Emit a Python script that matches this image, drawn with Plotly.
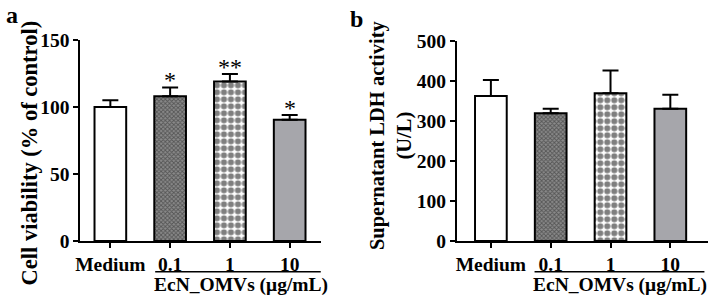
import plotly.graph_objects as go

categories = ["Medium", "0.1", "1", "10"]
viability = [100, 108, 119, 90.5]
viability_err = [5, 6.5, 5.5, 3.5]
viability_sig = ["", "*", "**", "*"]
ldh = [362, 319, 369, 330]
ldh_err = [40, 11, 57, 35]
group_label = "EcN_OMVs (μg/mL)"

FONT = "Liberation Serif"
FS = 19.5
W, H = 709, 308

def px(x):
    return x / W

def py(y):
    return (H - y) / H

xpos = list(range(len(categories)))

fills = [
    dict(color="white", pattern=dict(shape="")),
    dict(color="#8a8a8a", pattern=dict(shape="x", fgcolor="#202020", size=3, solidity=0.5)),
    dict(color="white", pattern=dict(shape=".", fgcolor="black", size=7, solidity=0.6)),
    dict(color="#a6a6ab", pattern=dict(shape="")),
]

fig = go.Figure()

for panel, (vals, errs, xa, ya) in enumerate([(viability, viability_err, "x", "y"), (ldh, ldh_err, "x2", "y2")]):
    for i in range(len(categories)):
        f = fills[i]
        fig.add_trace(go.Bar(
            x=[xpos[i]], y=[vals[i]], width=0.53, xaxis=xa, yaxis=ya,
            marker=dict(color=f["color"], pattern=f["pattern"], line=dict(color="black", width=2)),
            error_y=dict(type="data", symmetric=False, array=[errs[i]], arrayminus=[0],
                         color="black", thickness=2, width=8),
            showlegend=False, hoverinfo="skip",
        ))

# significance stars
for i, s in enumerate(viability_sig):
    if s:
        fig.add_annotation(x=xpos[i], y=viability[i] + viability_err[i], xref="x", yref="y",
                           text=s, showarrow=False, yanchor="bottom", yshift=-8,
                           font=dict(family=FONT, size=24, color="black"))

axis_common = dict(showline=True, linecolor="black", linewidth=2, ticks="outside",
                   tickwidth=2, ticklen=5, tickcolor="black", showgrid=False, zeroline=False,
                   tickfont=dict(family=FONT, size=FS, color="black"))

fig.update_layout(
    width=W, height=H, margin=dict(l=0, r=0, t=0, b=0),
    paper_bgcolor="white", plot_bgcolor="white", barmode="overlay",
    xaxis=dict(domain=[px(76), px(318)], range=[-0.5, 3.52], anchor="y",
               tickvals=xpos, ticktext=["<b>%s</b>" % c for c in categories], **axis_common),
    yaxis=dict(domain=[py(248), py(32)], range=[0, 150], anchor="x",
               tickvals=[0, 50, 100, 150], ticktext=["<b>%d</b>" % v for v in [0, 50, 100, 150]],
               **axis_common),
    xaxis2=dict(domain=[px(455), px(708)], range=[-0.57, 3.63], anchor="y2",
                tickvals=xpos, ticktext=["<b>%s</b>" % c for c in categories], **axis_common),
    yaxis2=dict(domain=[py(248), py(33)], range=[0, 500], anchor="x2",
                tickvals=[0, 100, 200, 300, 400, 500],
                ticktext=["<b>%d</b>" % v for v in [0, 100, 200, 300, 400, 500]], **axis_common),
)

# group underline and label
for xa, x0, x1, xc in [("x", 0.75, 3.57, 2.18), ("x2", 0.73, 3.57, 2.16)]:
    fig.add_shape(type="line", xref=xa, yref="paper", x0=x0, x1=x1, y0=py(281), y1=py(281),
                  line=dict(color="black", width=1.5))
    fig.add_annotation(x=xc, y=py(295), xref=xa, yref="paper", text="<b>%s</b>" % group_label,
                       showarrow=False, xanchor="center", yanchor="middle",
                       font=dict(family=FONT, size=FS, color="black"))

# axis titles
fig.add_annotation(x=px(25), y=py(153), xref="paper", yref="paper", textangle=-90,
                   xanchor="center", yanchor="middle",
                   text="<b>Cell viability (% of control)</b>", showarrow=False,
                   font=dict(family=FONT, size=22.5, color="black"))
fig.add_annotation(x=px(389), y=py(134), xref="paper", yref="paper", textangle=-90,
                   xanchor="center", yanchor="middle",
                   text="<b>Supernatant LDH activity<br>(U/L)</b>", showarrow=False,
                   font=dict(family=FONT, size=20.5, color="black"))

# panel letters
fig.add_annotation(x=px(7), y=py(5), xref="paper", yref="paper", text="<b>a</b>",
                   xanchor="center", yanchor="middle",
                   showarrow=False, font=dict(family=FONT, size=24, color="black"))
fig.add_annotation(x=px(354), y=py(10), xref="paper", yref="paper", text="<b>b</b>",
                   xanchor="center", yanchor="middle",
                   showarrow=False, font=dict(family=FONT, size=24, color="black"))

fig.write_html("out.html", config={"displayModeBar": False},
               post_script="document.body.style.margin='0';document.body.style.overflow='hidden';")
